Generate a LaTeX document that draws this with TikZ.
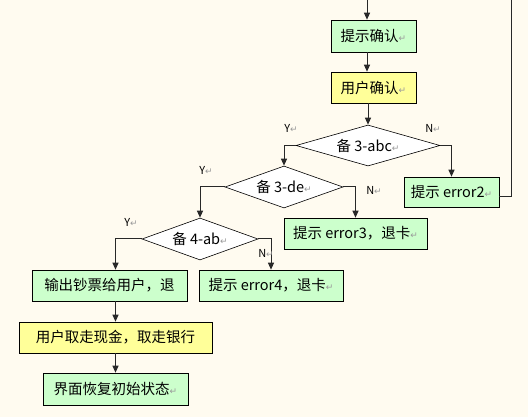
\documentclass[tikz,border=0pt]{standalone}
\usepackage{fontspec}
\setmainfont{Noto Sans CJK SC}
\newfontfamily\dejavu{DejaVu Sans}
\usepackage{tikz}
\usetikzlibrary{shapes.geometric,arrows.meta,calc}
\usepackage{xcolor}
\definecolor{BoxGreen}{RGB}{204,255,204}
\definecolor{BoxYellow}{RGB}{255,255,153}
\definecolor{PageBg}{RGB}{255,251,240}
\definecolor{LineGray}{RGB}{40,40,40}
\newcommand{\pmk}{{\dejavu\color{black!40}\fontsize{9}{9}\selectfont ↵}}

\begin{document}
\begin{tikzpicture}[
  x=1pt,y=-1pt,
  box/.style={draw=black,line width=0.6pt,inner sep=0pt,
              font=\fontsize{14.5}{16}\selectfont},
  okbox/.style={box,fill=BoxGreen},
  userbox/.style={box,fill=BoxYellow},
  check/.style={diamond,draw=black,line width=0.6pt,fill=white,aspect=3.5,
                inner sep=0pt,font=\fontsize{14.5}{16}\selectfont},
  yn/.style={font=\fontsize{11}{12}\selectfont,inner sep=0pt},
  arr/.style={-{Triangle[length=7pt,width=6pt]},line width=1pt,LineGray},
  ln/.style={line width=1pt,LineGray},
]
\fill[PageBg] (0,0) rectangle (528,417);
\useasboundingbox (0,0) rectangle (528,417);
% confirmation steps
\coordinate (in) at (367,0);
\coordinate (back) at (511,0);
\node[okbox,minimum width=85pt,minimum height=32pt] (confirm) at (373.5,36)
  {提示确认\pmk};
\node[userbox,minimum width=85pt,minimum height=31pt] (userok) at (373.5,87.5)
  {用户确认\pmk};
% checks
\node[check,minimum width=144pt,minimum height=41pt] (chkA) at (368,145.5)
  {备 3-abc\pmk};
\node[check,minimum width=118pt,minimum height=42pt] (chkB) at (284,187)
  {备 3-de\pmk};
\node[check,minimum width=116pt,minimum height=42pt] (chkC) at (200,239)
  {备 4-ab\pmk};
% error messages
\node[okbox,minimum width=95pt,minimum height=30pt] (err2) at (451.5,192)
  {提示 error2\pmk};
\node[okbox,minimum width=143pt,minimum height=31pt] (err3) at (355.5,233.5)
  {提示 error3，退卡\pmk};
\node[okbox,minimum width=144pt,minimum height=31pt] (err4) at (271,285.5)
  {提示 error4，退卡\pmk};
% success path
\node[okbox,minimum width=155pt,minimum height=31pt] (cash) at (109.5,285.5)
  {输出钞票给用户，退};
\node[userbox,minimum width=193pt,minimum height=31pt] (take) at (115.5,337.5)
  {用户取走现金，取走银行};
\node[okbox,minimum width=145pt,minimum height=32pt] (reset) at (115.5,389)
  {界面恢复初始状态\pmk};
\draw[arr] (in) -- (in |- confirm.north);
\draw[arr] (confirm.south -| in) -- (userok.north -| in);
\draw[arr] (userok.south -| chkA.north) -- (chkA.north);
\draw[arr] (chkA.east) -| (err2.north);
\draw[ln] ([yshift=-5pt]err2.east) -| (back);
\draw[arr] (chkA.west) -| (chkB.north);
\draw[arr] (chkB.east) -| (err3.north);
\draw[arr] (chkB.west) -| (chkC.north);
\draw[arr] (chkC.east) -| (err4.north);
\draw[arr] (chkC.west) -| (cash.north -| take.north);
\draw[arr] (cash.south -| take.north) -- (take.north);
\draw[arr] (take.south) -- (reset.north);
% Y / N labels
\node[yn] (yA) at (291,128) {Y\pmk};
\node[yn] (nA) at (433,128) {N\pmk};
\node[yn] (yB) at (206,170) {Y\pmk};
\node[yn] (nB) at (374,190) {N\pmk};
\node[yn] (yC) at (131,222) {Y\pmk};
\node[yn] (nC) at (266,253) {N\pmk};
\end{tikzpicture}
\end{document}
